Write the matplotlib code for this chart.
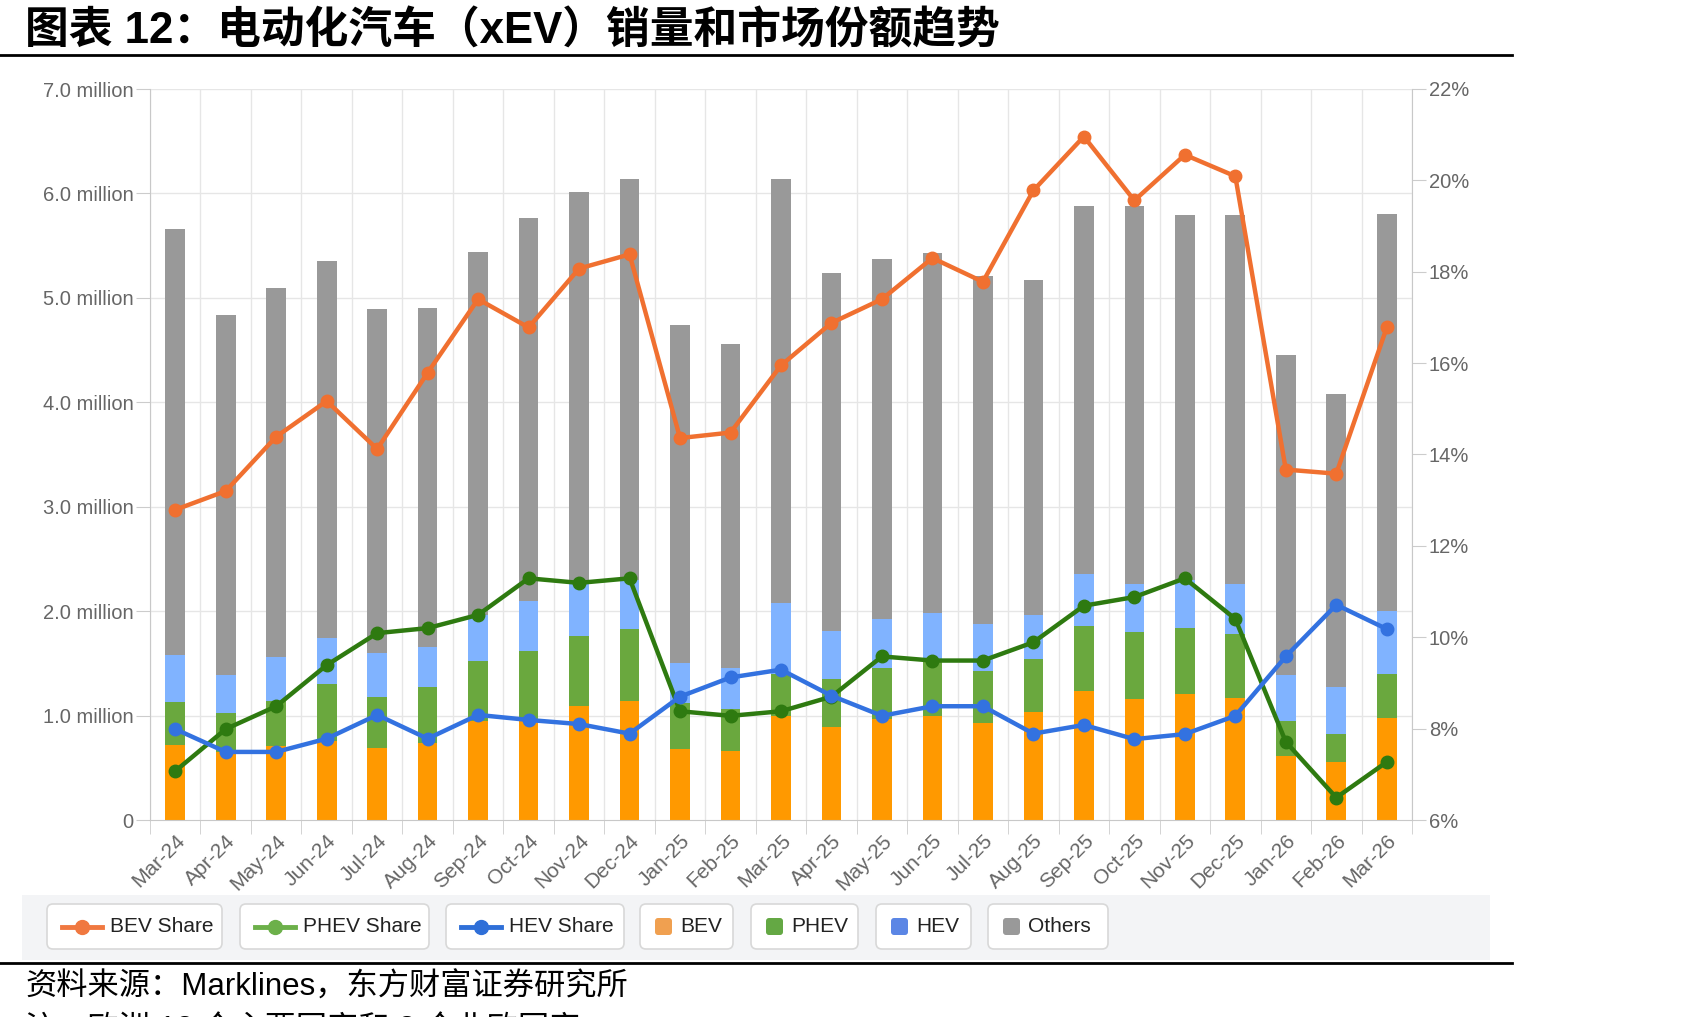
import matplotlib
matplotlib.use("Agg")
import matplotlib.pyplot as plt
from matplotlib.patches import FancyBboxPatch, Rectangle
import numpy as np

plt.rcParams['font.family'] = ['Liberation Sans', 'Noto Sans CJK SC', 'DejaVu Sans']

# 月份
months = ['Mar-24', 'Apr-24', 'May-24', 'Jun-24', 'Jul-24', 'Aug-24', 'Sep-24', 'Oct-24',
          'Nov-24', 'Dec-24', 'Jan-25', 'Feb-25', 'Mar-25', 'Apr-25', 'May-25', 'Jun-25',
          'Jul-25', 'Aug-25', 'Sep-25', 'Oct-25', 'Nov-25', 'Dec-25', 'Jan-26', 'Feb-26', 'Mar-26']

# 销量 (百万辆)
bev = [0.72, 0.65, 0.71, 0.76, 0.69, 0.74, 0.95, 0.95, 1.09, 1.14, 0.68, 0.66, 1.00,
       0.89, 0.97, 1.00, 0.93, 1.03, 1.24, 1.16, 1.21, 1.17, 0.61, 0.56, 0.98]
phev = [0.41, 0.37, 0.43, 0.54, 0.49, 0.53, 0.57, 0.67, 0.67, 0.69, 0.44, 0.40, 0.40,
        0.46, 0.49, 0.52, 0.50, 0.51, 0.62, 0.64, 0.63, 0.61, 0.34, 0.26, 0.42]
hev = [0.45, 0.37, 0.42, 0.44, 0.42, 0.39, 0.44, 0.48, 0.51, 0.47, 0.38, 0.40, 0.68,
       0.46, 0.46, 0.46, 0.45, 0.42, 0.50, 0.46, 0.46, 0.48, 0.44, 0.45, 0.60]
others = [4.08, 3.45, 3.53, 3.61, 3.29, 3.24, 3.48, 3.66, 3.74, 3.84, 3.24, 3.10, 4.06,
          3.43, 3.45, 3.45, 3.33, 3.21, 3.52, 3.62, 3.49, 3.53, 3.06, 2.81, 3.80]

# 份额 (%)
bev_share = [12.79, 13.20, 14.39, 15.17, 14.12, 15.79, 17.40, 16.78, 18.07, 18.38, 14.36, 14.48, 15.95,
             16.88, 17.40, 18.30, 17.78, 19.78, 20.96, 19.56, 20.56, 20.09, 13.67, 13.58, 16.78]
phev_share = [7.07, 7.99, 8.49, 9.39, 10.09, 10.20, 10.49, 11.29, 11.19, 11.29, 8.38, 8.28, 8.38,
              8.70, 9.58, 9.49, 9.49, 9.89, 10.69, 10.88, 11.29, 10.40, 7.71, 6.49, 7.27]
hev_share = [7.99, 7.49, 7.49, 7.78, 8.30, 7.78, 8.30, 8.19, 8.10, 7.89, 8.70, 9.12, 9.29,
             8.72, 8.28, 8.49, 8.49, 7.89, 8.08, 7.77, 7.88, 8.28, 9.58, 10.71, 10.18]

W, H = 1701, 1017
fig = plt.figure(figsize=(W / 100, H / 100), dpi=100)

# 页面元素 (像素坐标)
ov = fig.add_axes([0, 0, 1, 1], zorder=0)
ov.set_xlim(0, W)
ov.set_ylim(H, 0)
ov.axis('off')

ov.text(25, 31, '图表 12：电动化汽车（xEV）销量和市场份额趋势', fontsize=31.5, fontweight='bold',
        va='center', ha='left')
ov.plot([0, 1512], [55, 55], color='black', lw=2)
ov.plot([0, 1512], [963, 963], color='black', lw=2)
ov.text(25, 988, '资料来源：Marklines，东方财富证券研究所', fontsize=22.5, va='center', ha='left')
ov.text(25, 1030, '注：欧洲 12 个主要国家和 3 个北欧国家', fontsize=22.5, va='center', ha='left')

# 图例
ov.add_patch(Rectangle((22, 895), 1468, 65, facecolor='#f3f4f6', edgecolor='none'))
leg_items = [
    ('BEV Share', 'line', '#f07840', 47, 222),
    ('PHEV Share', 'line', '#6cb04a', 240, 429),
    ('HEV Share', 'line', '#2f6fd8', 446, 624),
    ('BEV', 'box', '#f0a050', 640, 733),
    ('PHEV', 'box', '#64a844', 751, 858),
    ('HEV', 'box', '#5b86e5', 876, 971),
    ('Others', 'box', '#999999', 988, 1108),
]
for label, kind, col, x0, x1 in leg_items:
    ov.add_patch(FancyBboxPatch((x0, 904), x1 - x0, 45, boxstyle='round,pad=0,rounding_size=6',
                                facecolor='white', edgecolor='#d8d8d8', lw=1.2))
    if kind == 'line':
        ov.plot([x0 + 15, x0 + 55], [926.5, 926.5], color=col, lw=3.5)
        ov.plot([x0 + 35], [926.5], 'o', color=col, ms=10)
        tx = x0 + 63
    else:
        ov.add_patch(FancyBboxPatch((x0 + 15, 918), 17, 17, boxstyle='round,pad=0,rounding_size=3',
                                    facecolor=col, edgecolor='none'))
        tx = x0 + 40
    ov.text(tx, 927, label, fontsize=15, va='center', ha='left', color='#222222')

# 主图
ax = fig.add_axes([150 / W, 1 - 820 / H, (1412 - 150) / W, (820 - 89) / H], zorder=1)
ax.set_facecolor('none')
x = np.arange(len(months))
bw = 0.39
b1 = np.array(bev)
b2 = b1 + np.array(phev)
b3 = b2 + np.array(hev)
ax.bar(x, bev, bw, color='#ff9900', zorder=2)
ax.bar(x, phev, bw, bottom=b1, color='#6aa83e', zorder=2)
ax.bar(x, hev, bw, bottom=b2, color='#80b3ff', zorder=2)
ax.bar(x, others, bw, bottom=b3, color='#999999', zorder=2)

ax.set_xlim(-0.5, len(months) - 0.5)
ax.set_ylim(0, 7)
ax.set_yticks(range(8))
ax.set_yticklabels(['0'] + [f'{v:.1f} million' for v in range(1, 8)])
for v in range(1, 8):
    ax.axhline(v, color='#e6e6e6', lw=1, zorder=0)
for b in np.arange(-0.5, len(months) - 0.4, 1):
    ax.axvline(b, color='#e6e6e6', lw=1, zorder=0)
ax.set_xticks(x)
ax.set_xticklabels(months, rotation=45, ha='right', rotation_mode='anchor')
ax.set_xticks(np.arange(-0.5, len(months), 1), minor=True)
ax.tick_params(axis='x', which='major', length=0, pad=8, labelsize=15, labelcolor='#666666')
ax.tick_params(axis='x', which='minor', length=10, color='#cccccc')
ax.tick_params(axis='y', length=10, color='#cccccc', labelsize=14.5, labelcolor='#666666', pad=2)
for s in ['top', 'right']:
    ax.spines[s].set_visible(False)
ax.spines['left'].set_color('#c8c8c8')
ax.spines['bottom'].set_color('#c8c8c8')

ax2 = ax.twinx()
ax2.set_ylim(6, 22)
ax2.set_yticks(range(6, 23, 2))
ax2.set_yticklabels([f'{v}%' for v in range(6, 23, 2)])
ax2.tick_params(axis='y', length=10, color='#cccccc', labelsize=14.5, labelcolor='#666666', pad=2)
for s in ['top', 'left', 'bottom']:
    ax2.spines[s].set_visible(False)
ax2.spines['right'].set_color('#c8c8c8')

ax2.plot(x, bev_share, color='#f07030', lw=3.2, marker='o', ms=9, zorder=3)
ax2.plot(x, phev_share, color='#2e7a10', lw=3.2, marker='o', ms=9, zorder=3)
ax2.plot(x, hev_share, color='#3372e0', lw=3.2, marker='o', ms=9, zorder=3)

fig.savefig('out.png', dpi=100)
